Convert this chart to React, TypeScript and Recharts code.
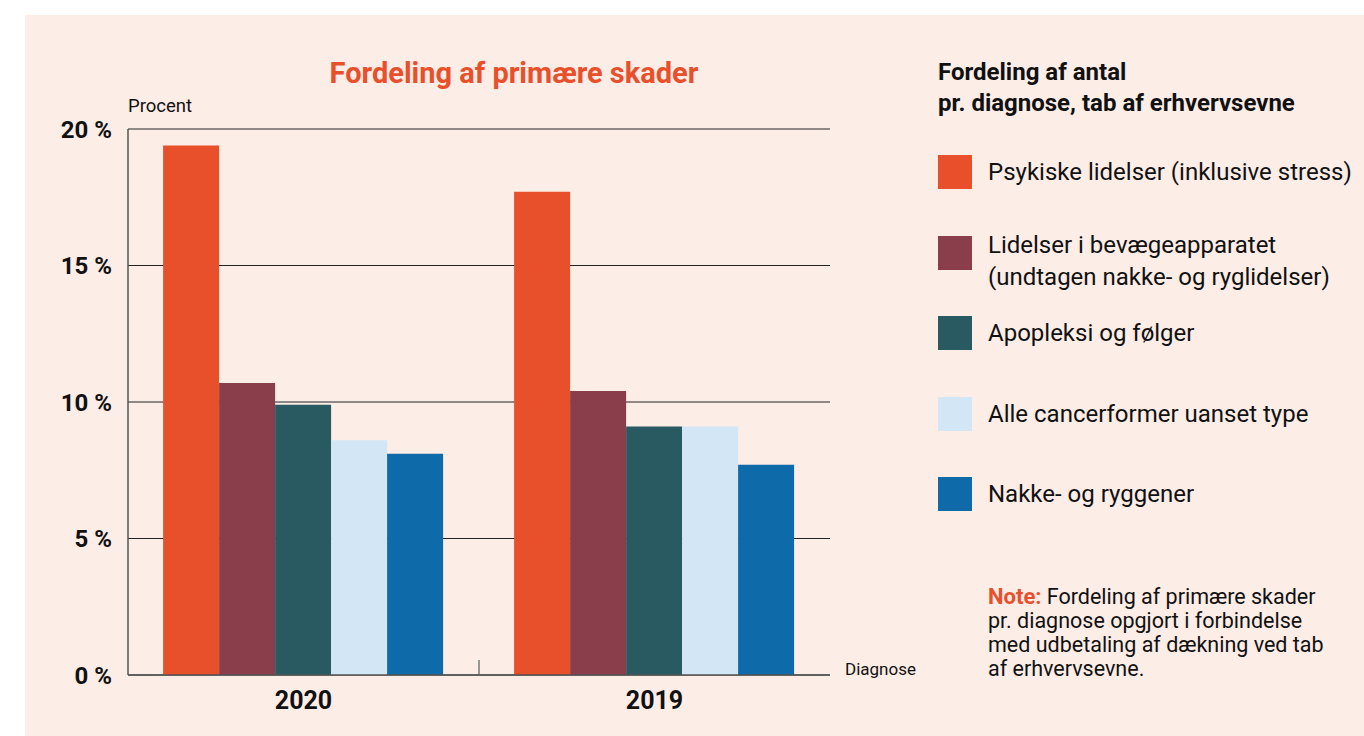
import React from 'react';
import { BarChart, Bar, XAxis, YAxis, CartesianGrid, ReferenceLine } from 'recharts';

const years = ['2020', '2019'];
const psykiske = [19.4, 17.7];
const bevaegeapparat = [10.7, 10.4];
const apopleksi = [9.9, 9.1];
const cancer = [8.6, 9.1];
const nakkeRyg = [8.1, 7.7];
const yTicks = [0, 5, 10, 15, 20];

const series = [
  { key: 'psykiske', values: psykiske, color: '#e8502b', label: ['Psykiske lidelser (inklusive stress)'] },
  { key: 'bevaeg', values: bevaegeapparat, color: '#8a3e4c', label: ['Lidelser i bevægeapparatet', '(undtagen nakke- og ryglidelser)'] },
  { key: 'apopleksi', values: apopleksi, color: '#2a5a61', label: ['Apopleksi og følger'] },
  { key: 'cancer', values: cancer, color: '#d3e6f6', label: ['Alle cancerformer uanset type'] },
  { key: 'nakke', values: nakkeRyg, color: '#0e6aa9', label: ['Nakke- og ryggener'] },
];

const data = years.map((year, i) => {
  const row: any = { year, idx: i + 0.5 };
  series.forEach(s => { row[s.key] = s.values[i]; });
  return row;
});

// swatch top positions in the legend column
const legendTops = [155, 236, 316, 397, 477];

const FONT = 'Roboto, "Noto Sans", sans-serif';

export default function App() {
  return (
    <div style={{ position: 'absolute', left: 0, top: 0, width: 1364, height: 736, background: '#fff', fontFamily: FONT, overflow: 'hidden' }}>
      <div style={{ position: 'absolute', left: 25, top: 15, width: 1339, height: 721, background: '#fdede7' }} />

      <div style={{ position: 'absolute', left: 0, top: 56, width: 1028, textAlign: 'center', color: '#e8502b', fontWeight: 700, fontSize: 29 }}>
        Fordeling af primære skader
      </div>
      <div style={{ position: 'absolute', left: 128, top: 95, fontSize: 18.5, color: '#111' }}>Procent</div>
      <div style={{ position: 'absolute', left: 845, top: 659, fontSize: 17, color: '#111' }}>Diagnose</div>

      <div style={{ position: 'absolute', left: 0, top: 0 }}>
        <BarChart
          width={900}
          height={736}
          data={data}
          margin={{ top: 129, right: 70, bottom: 21, left: 28 }}
          barCategoryGap="10%"
          barGap={0}
        >
          <CartesianGrid vertical={false} stroke="#222" strokeWidth={1} />
          <XAxis xAxisId="mid" type="number" dataKey="idx" domain={[0, 2]} allowDataOverflow hide />
          <XAxis
            dataKey="year"
            height={40}
            axisLine={{ stroke: '#555', strokeWidth: 1.5 }}
            tickLine={false}
            tickSize={0}
            tickMargin={16}
            tick={{ fill: '#111', fontSize: 25, fontWeight: 700, fontFamily: FONT }}
          />
          <YAxis
            width={100}
            domain={[0, 20]}
            ticks={yTicks}
            tickFormatter={(v: number) => `${v} %`}
            axisLine={{ stroke: '#555', strokeWidth: 1.5 }}
            tickLine={false}
            tickSize={0}
            tickMargin={16}
            tick={{ fill: '#111', fontSize: 24, fontWeight: 700, fontFamily: FONT }}
          />
          {series.map(s => (
            <Bar key={s.key} dataKey={s.key} fill={s.color} isAnimationActive={false} />
          ))}
          {/* small divider tick between the two year groups */}
          <ReferenceLine
            xAxisId="mid"
            segment={[{ x: 1, y: 0 }, { x: 1, y: 0.55 }]}
            stroke="#777"
            strokeWidth={1.5}
          />
        </BarChart>
      </div>

      <div style={{ position: 'absolute', left: 938, top: 57, fontSize: 24, fontWeight: 700, lineHeight: '31px', color: '#111' }}>
        Fordeling af antal<br />pr. diagnose, tab af erhvervsevne
      </div>

      {series.map((s, i) => (
        <div key={s.key}>
          <div style={{ position: 'absolute', left: 938, top: legendTops[i], width: 34, height: 34, background: s.color }} />
          <div
            style={{
              position: 'absolute',
              left: 988,
              top: legendTops[i] + 17 - (s.label.length * 32) / 2 + (s.label.length > 1 ? 8 : 0),
              fontSize: 24,
              lineHeight: '32px',
              color: '#111',
              whiteSpace: 'nowrap',
            }}
          >
            {s.label.map((l, j) => <div key={j}>{l}</div>)}
          </div>
        </div>
      ))}

      <div style={{ position: 'absolute', left: 988, top: 585, width: 380, fontSize: 21.5, lineHeight: '24px', color: '#111', whiteSpace: 'nowrap' }}>
        <span style={{ color: '#e8502b', fontWeight: 700, fontSize: 22 }}>Note:</span> Fordeling af primære skader
        <br />pr. diagnose opgjort i forbindelse
        <br />med udbetaling af dækning ved tab
        <br />af erhvervsevne.
      </div>
    </div>
  );
}
